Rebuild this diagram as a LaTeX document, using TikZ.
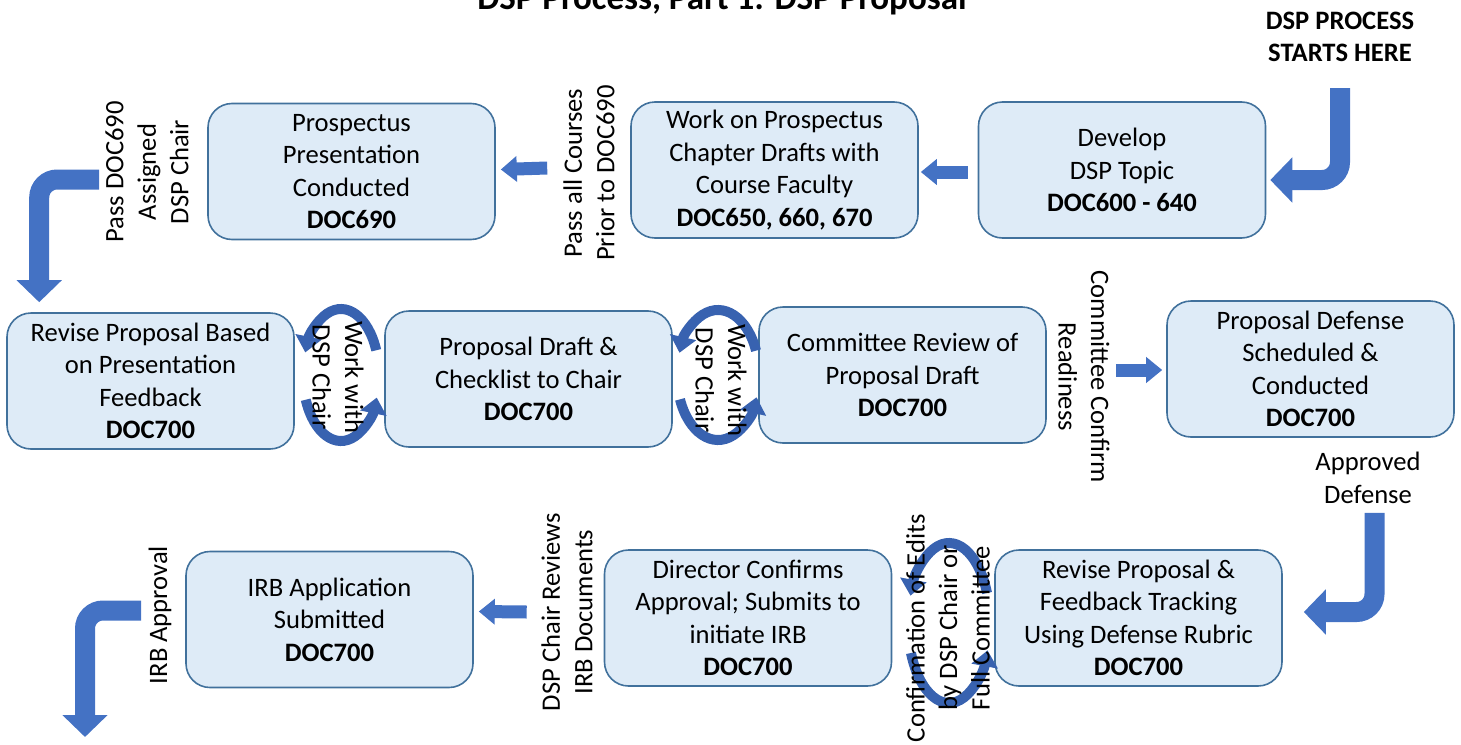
\documentclass[tikz,border=0pt]{standalone}
\usepackage{fontspec}
\setmainfont{Carlito}
\usetikzlibrary{calc,arrows.meta}
\definecolor{boxfill}{HTML}{DEEBF7}
\definecolor{boxline}{HTML}{41719C}
\definecolor{arrowblue}{HTML}{4472C4}
\definecolor{cycleblue}{HTML}{3862B0}

\begin{document}
\begin{tikzpicture}[x=0.5pt,y=-0.5pt,
	box/.style={draw=boxline,fill=boxfill,line width=0.8pt,rounded corners=12pt,
		minimum width=143.5pt,minimum height=68pt,inner sep=0pt,align=center,
		font=\fontsize{13.3}{16.25}\selectfont},
	lbl/.style={align=center,inner sep=0pt,font=\fontsize{13.3}{16.25}\selectfont},
	bigarrow/.style={draw=arrowblue,line width=10pt,rounded corners=9pt,
		-{Triangle[width=22pt,length=11pt]}},
	smallarrow/.style={draw=arrowblue,line width=6.5pt,-{Triangle[width=12.5pt,length=8pt]}},
	cyclearrow/.style={draw=cycleblue,line width=5pt,-{Triangle[width=13pt,length=8pt]}}]
	\useasboundingbox (0,0) rectangle (1461,744);
	\clip (0,0) rectangle (1461,744);
	% title and start
	\draw (722,10) node[anchor=base,font=\fontsize{17.5}{20}\selectfont\bfseries] (title) {DSP Process, Part 1: DSP Proposal};
	\draw (1340,37) node[lbl,font=\fontsize{13.3}{16.25}\selectfont\bfseries] (start) {DSP PROCESS\\STARTS HERE};
	\coordinate (startTop) at (1340,88);
	% first row
	\draw (351.5,171.5) node[box] (prosp) {Prospectus\\Presentation\\Conducted\\\textbf{DOC690}};
	\draw (774.5,170) node[box] (work) {Work on Prospectus\\Chapter Drafts with\\Course Faculty\\\textbf{DOC650, 660, 670}};
	\draw (1122,170) node[box] (develop) {Develop\\DSP Topic\\\textbf{DOC600 - 640}};
	% second row
	\draw (150.5,381) node[box] (revise) {Revise Proposal Based\\on Presentation\\Feedback\\\textbf{DOC700}};
	\draw (528.5,379) node[box] (draft) {Proposal Draft \&\\Checklist to Chair\\\textbf{DOC700}};
	\draw (902.5,375) node[box] (review) {Committee Review of\\Proposal Draft\\\textbf{DOC700}};
	\draw (1310.5,369) node[box] (defense) {Proposal Defense\\Scheduled \&\\Conducted\\\textbf{DOC700}};
	% third row
	\draw (329.5,619.5) node[box] (irb) {IRB Application\\Submitted\\\textbf{DOC700}};
	\draw (748,618) node[box] (director) {Director Confirms\\Approval; Submits to\\initiate IRB\\\textbf{DOC700}};
	\draw (1138.5,618) node[box] (feedback) {Revise Proposal \&\\Feedback Tracking\\Using Defense Rubric\\\textbf{DOC700}};
	\coordinate (irbEnd) at (85,737);
	% arrows
	\draw[bigarrow] (startTop) |- ($(develop.east)+(4,10)$);
	\draw[smallarrow] ($(develop.west)+(-10,2)$) -- ($(work.east)+(2,2)$);
	\draw[smallarrow] ($(work.west)+(-83,-2)$) -- ($(prosp.east)+(5,-2)$);
	\draw[bigarrow] ($(prosp.west)+(-108,8)$) -| ($(revise.north west)+(33,-10)$);
	\draw[smallarrow] ($(review.east)+(69,-5)$) -- ($(defense.west)+(-4,1)$);
	\draw[bigarrow] ($(defense.south)+(64,75)$) |- ($(feedback.east)+(21,-6)$);
	\draw[smallarrow] ($(director.west)+(-77,-6)$) -- ($(irb.east)+(5,-8)$);
	\draw[bigarrow] ($(irb.west)+(-44,-9)$) -| (irbEnd);
	% work cycles
	\coordinate (cyc1) at (341,375);
	\coordinate (cyc2) at (718,375);
	\coordinate (cyc3) at (949,623);
	\draw[cyclearrow] ($(cyc1)+(22:19pt and 33pt)$) arc[start angle=22,end angle=160,x radius=19pt,y radius=33pt];
	\draw[cyclearrow] ($(cyc1)+(202:19pt and 33pt)$) arc[start angle=202,end angle=340,x radius=19pt,y radius=33pt];
	\draw[cyclearrow] ($(cyc2)+(22:20.5pt and 32.5pt)$) arc[start angle=22,end angle=160,x radius=20.5pt,y radius=32.5pt];
	\draw[cyclearrow] ($(cyc2)+(202:20.5pt and 32.5pt)$) arc[start angle=202,end angle=340,x radius=20.5pt,y radius=32.5pt];
	\draw[cyclearrow] ($(cyc3)+(22:20.5pt and 40pt)$) arc[start angle=22,end angle=160,x radius=20.5pt,y radius=40pt];
	\draw[cyclearrow] ($(cyc3)+(202:20.5pt and 40pt)$) arc[start angle=202,end angle=340,x radius=20.5pt,y radius=40pt];
	% labels
	\draw (147,172) node[lbl,rotate=90] (lblpass) {Pass DOC690\\Assigned\\DSP Chair};
	\draw (589,173) node[lbl,rotate=90] (lblcourses) {Pass all Courses\\Prior to DOC690};
	\draw (338,377) node[lbl,rotate=-90] (lblwork1) {Work with\\DSP Chair};
	\draw (721,380) node[lbl,rotate=-90] (lblwork2) {Work with\\DSP Chair};
	\draw (1084,377) node[lbl,rotate=-90] (lblready) {Committee Confirm\\Readiness};
	\draw (1368,478) node[lbl] (lblapproved) {Approved\\Defense};
	\draw (948,628) node[lbl,rotate=90] (lblconfirm) {Confirmation of Edits\\by DSP Chair or\\Full Committee};
	\draw (567,612) node[lbl,rotate=90] (lblirbdocs) {DSP Chair Reviews\\IRB Documents};
	\draw (160,615) node[lbl,rotate=90] (lblirb) {IRB Approval};
\end{tikzpicture}
\end{document}
